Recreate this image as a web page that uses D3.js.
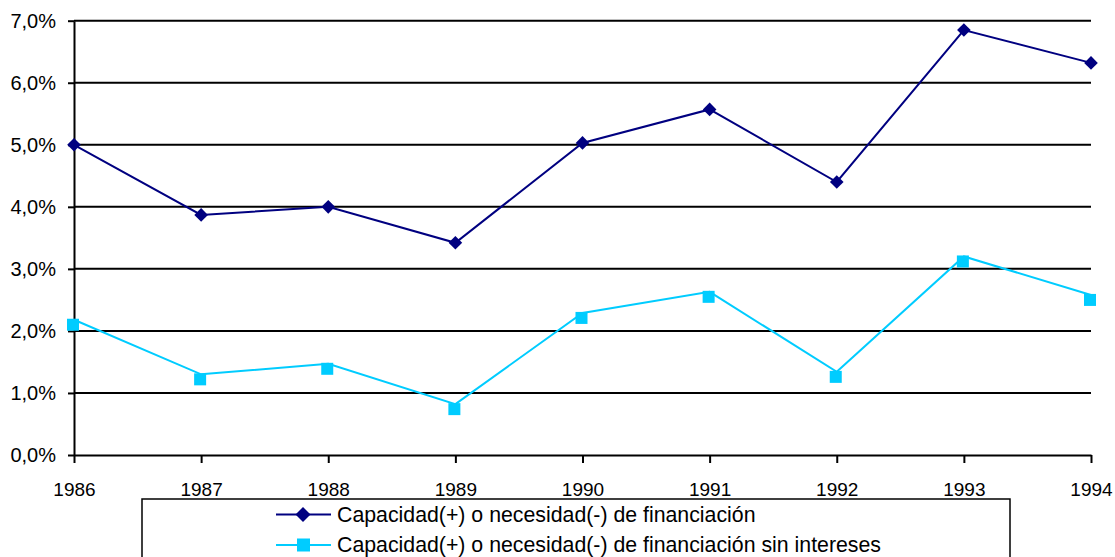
<!DOCTYPE html>
<html>
<head>
<meta charset="utf-8">
<script src="https://cdn.jsdelivr.net/npm/d3@7"></script>
<style>
  html, body { margin: 0; padding: 0; background: #fff; }
  svg { display: block; }
  text { font-family: "Liberation Sans", Arial, sans-serif; fill: #000; }
</style>
</head>
<body>
<svg id="chart" width="1115" height="557"></svg>
<script>
// Years on the category axis
const years = ["1986", "1987", "1988", "1989", "1990", "1991", "1992", "1993", "1994"];
// Capacidad(+) o necesidad(-) de financiación, share of GDP
const financiacion = [0.0500, 0.0387, 0.0400, 0.0342, 0.0503, 0.0557, 0.0440, 0.0685, 0.0632];
// Same balance excluding interest payments
const sinIntereses = [0.0218, 0.0130, 0.0147, 0.0082, 0.0229, 0.0263, 0.0134, 0.0320, 0.0258];
// Value-axis ticks
const yTicks = [0, 0.01, 0.02, 0.03, 0.04, 0.05, 0.06, 0.07];
const seriesNames = [
  "Capacidad(+) o necesidad(-) de financiación",
  "Capacidad(+) o necesidad(-) de financiación sin intereses"
];

const svg = d3.select("#chart");
const plotLeft = 74, plotRight = 1091, plotTop = 20.7, plotBottom = 455;

const x = d3.scalePoint().domain(years).range([plotLeft, plotRight]);
const y = d3.scaleLinear().domain([0, 0.07]).range([plotBottom, plotTop]);

const esLocale = d3.formatLocale({ decimal: ",", thousands: ".", grouping: [3], currency: ["", " €"] });
const pct = esLocale.format(".1%");

// Horizontal gridlines
svg.append("g")
  .selectAll("line")
  .data(yTicks.filter(d => d > 0))
  .join("line")
  .attr("x1", plotLeft).attr("x2", plotRight)
  .attr("y1", d => y(d)).attr("y2", d => y(d))
  .attr("stroke", "#000").attr("stroke-width", 2);

// Value axis
const yAxis = svg.append("g")
  .attr("transform", `translate(${plotLeft},0)`)
  .call(d3.axisLeft(y).tickValues(yTicks).tickFormat(pct).tickSize(6).tickSizeOuter(0).tickPadding(12));
yAxis.select(".domain").attr("stroke", "#000").attr("stroke-width", 2);
yAxis.selectAll(".tick line").attr("stroke", "#000").attr("stroke-width", 2);
yAxis.selectAll("text").attr("font-size", 20).attr("font-family", "Liberation Sans, Arial, sans-serif");

// Category axis
const xAxis = svg.append("g")
  .attr("transform", `translate(0,${plotBottom})`)
  .call(d3.axisBottom(x).tickSize(8).tickPadding(20).tickSizeOuter(0));
xAxis.select(".domain").attr("stroke", "#000").attr("stroke-width", 2);
xAxis.selectAll(".tick line").attr("stroke", "#000").attr("stroke-width", 2);
xAxis.selectAll("text").attr("font-size", 19).attr("font-family", "Liberation Sans, Arial, sans-serif");

const dark = "#000080", light = "#00CCFF";
const line = d3.line().x((d, i) => x(years[i])).y(d => y(d));

svg.append("path").datum(financiacion)
  .attr("d", line).attr("fill", "none").attr("stroke", dark).attr("stroke-width", 2);
svg.append("path").datum(sinIntereses)
  .attr("d", line).attr("fill", "none").attr("stroke", light).attr("stroke-width", 2);

const diamond = s => `M0,${-s}L${s},0L0,${s}L${-s},0Z`;

// Diamond markers
svg.append("g").selectAll("path")
  .data(financiacion)
  .join("path")
  .attr("transform", (d, i) => `translate(${x(years[i])},${y(d)})`)
  .attr("d", diamond(6.8))
  .attr("fill", dark);

// Square markers (drawn slightly below the vertex, as the old renderer does)
const sq = 12, sqShift = 5;
svg.append("g").selectAll("rect")
  .data(sinIntereses)
  .join("rect")
  .attr("x", (d, i) => x(years[i]) - sq / 2 - 1)
  .attr("y", d => y(d) - sq / 2 + sqShift)
  .attr("width", sq).attr("height", sq)
  .attr("fill", light);

// Legend
const lg = svg.append("g");
lg.append("rect")
  .attr("x", 142).attr("y", 499).attr("width", 868).attr("height", 80)
  .attr("fill", "#fff").attr("stroke", "#000").attr("stroke-width", 1.5);

const rows = [
  { name: seriesNames[0], color: dark, ly: 514.5, shape: "diamond" },
  { name: seriesNames[1], color: light, ly: 545, shape: "square" }
];
rows.forEach(r => {
  lg.append("line").attr("x1", 276).attr("x2", 331).attr("y1", r.ly).attr("y2", r.ly)
    .attr("stroke", r.color).attr("stroke-width", 2);
  if (r.shape === "diamond") {
    lg.append("path").attr("transform", `translate(303,${r.ly})`).attr("d", diamond(7.5)).attr("fill", r.color);
  } else {
    lg.append("rect").attr("x", 297).attr("y", r.ly - 6.5).attr("width", 13).attr("height", 13).attr("fill", r.color);
  }
  lg.append("text").attr("x", 337).attr("y", r.ly).attr("dy", "0.35em")
    .attr("font-size", 21.3).text(r.name);
});
</script>
</body>
</html>
